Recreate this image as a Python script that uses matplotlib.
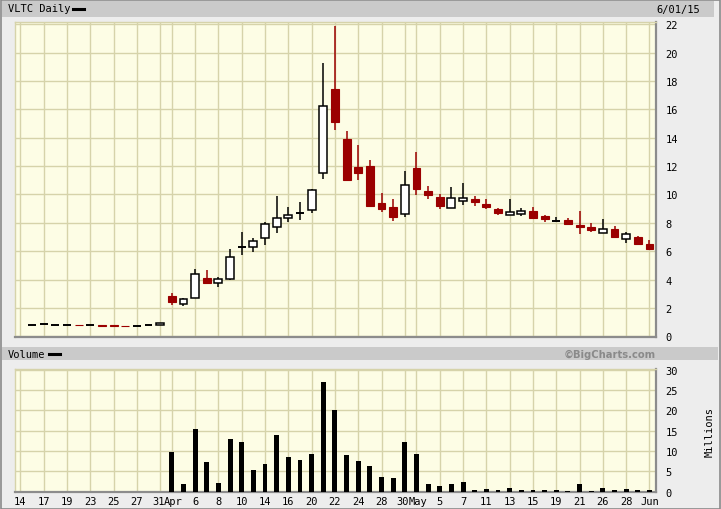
import numpy as np
import matplotlib
matplotlib.use("Agg")
import matplotlib.pyplot as plt
import matplotlib.transforms as mtransforms
from matplotlib.patches import Rectangle
from matplotlib.lines import Line2D

# VLTC daily, 16 Mar - 1 Jun 2015 (one entry per trading day)
opens = [0.82, 0.87, 0.82, 0.82, 0.81, 0.79, 0.78, 0.78, 0.76, 0.74, 0.79, 0.82,
         2.84, 2.31, 2.73, 4.14, 3.76, 4.04, 6.30, 6.26, 6.96, 7.67, 8.37, 8.67,
         8.93, 11.54, 17.42, 13.89, 11.90, 11.97, 9.38, 9.10, 8.65,
         11.85, 10.23, 9.85, 9.07, 9.57, 9.68, 9.31, 9.00, 8.58, 8.65, 8.81,
         8.48, 8.13, 8.18, 7.83, 7.69, 7.31, 7.55, 6.89, 7.03, 6.47]
highs = [0.82, 0.88, 0.82, 0.82, 0.81, 0.81, 0.78, 0.78, 0.76, 0.74, 0.79, 0.97,
         3.03, 2.73, 4.72, 4.65, 4.18, 6.14, 7.36, 6.91, 8.06, 9.89, 9.14, 9.43,
         10.41, 19.25, 21.84, 14.46, 13.47, 12.41, 10.11, 9.66, 11.64,
         13.00, 10.56, 10.01, 10.51, 10.79, 9.89, 9.71, 9.07, 9.66, 9.07, 9.14,
         8.55, 8.44, 8.37, 8.84, 7.95, 8.25, 7.78, 7.36, 7.08, 6.77]
lows = [0.82, 0.86, 0.82, 0.82, 0.79, 0.78, 0.75, 0.75, 0.74, 0.74, 0.79, 0.82,
        2.21, 2.14, 2.73, 3.67, 3.48, 3.97, 5.71, 5.95, 6.44, 7.31, 8.02, 8.20,
        8.72, 11.12, 14.55, 10.91, 11.00, 9.12, 8.77, 8.10, 8.44,
        9.97, 9.66, 8.98, 9.07, 9.26, 9.19, 8.96, 8.53, 8.53, 8.48, 8.25,
        8.06, 8.02, 7.83, 7.19, 7.36, 7.31, 6.91, 6.56, 6.42, 6.06]
closes = [0.82, 0.87, 0.82, 0.82, 0.79, 0.79, 0.75, 0.75, 0.74, 0.74, 0.79, 0.96,
          2.42, 2.61, 4.42, 3.76, 4.07, 5.62, 6.30, 6.75, 7.90, 8.37, 8.53, 8.67,
          10.32, 16.20, 15.11, 11.00, 11.52, 9.19, 9.00, 8.40, 10.63,
          10.39, 9.97, 9.19, 9.75, 9.78, 9.47, 9.12, 8.70, 8.79, 8.81, 8.34,
          8.25, 8.13, 7.92, 7.71, 7.50, 7.55, 7.00, 7.24, 6.49, 6.14]
# volume, millions (March too small to show)
volumes = [0, 0, 0, 0, 0, 0, 0, 0, 0, 0, 0, 0,
           9.7, 1.9, 15.4, 7.3, 2.1, 13.0, 12.2, 5.3, 6.8, 13.9, 8.4, 7.8,
           9.3, 27.0, 20.1, 9.0, 7.5, 6.3, 3.7, 3.4, 12.2,
           9.3, 1.9, 1.4, 1.9, 2.4, 0.4, 0.65, 0.4, 0.9, 0.4, 0.4,
           0.4, 0.4, 0.2, 1.9, 0.2, 0.9, 0.4, 0.65, 0.4, 0.4]

# date ticks (trading-day index) and their labels
tick_idx = [-1, 1, 3, 5, 7, 9, 11, 12, 14, 16, 18, 20, 22, 24, 26, 28, 30, 32,
            33, 35, 37, 39, 41, 43, 45, 47, 49, 51, 53]
tick_labels = ["14", "17", "19", "23", "25", "27", "31", "Apr", "6", "8", "10",
               "14", "16", "20", "22", "24", "28", "30", "May", "5", "7", "11",
               "13", "15", "19", "21", "26", "28", "Jun"]
price_ticks = [0, 2, 4, 6, 8, 10, 12, 14, 16, 18, 20, 22]
vol_ticks = [0, 5, 10, 15, 20, 25, 30]

W, H = 721, 510
BG = "#ededed"
PLOT_BG = "#fdfde5"
GRID = "#d6d3aa"
RED = "#9b0000"
BAR = "#cacaca"
FONT = "DejaVu Sans Mono"
FS = 7.5

fig = plt.figure(figsize=(W / 100, H / 100), dpi=100, facecolor=BG)


def px_axes(left, top, right, bottom):
    return fig.add_axes([left / W, 1 - bottom / H, (right - left) / W, (bottom - top) / H])


# header bars and outer border
fig.patches.append(Rectangle((2 / W, 1 - 17.5 / H), 712 / W, 15.5 / H,
                             transform=fig.transFigure, facecolor=BAR, edgecolor="none"))
fig.patches.append(Rectangle((2 / W, 1 - 361 / H), 716 / W, 13 / H,
                             transform=fig.transFigure, facecolor=BAR, edgecolor="none"))
fig.patches.append(Rectangle((0.5 / W, 0.5 / H), 719 / W, 508.5 / H,
                             transform=fig.transFigure, facecolor="none",
                             edgecolor="#8a8a8a", lw=1.2))

ax = px_axes(15, 23, 656, 338)
axv = px_axes(15, 370, 656, 493)

x = np.arange(len(closes))
xlim = (-1.46, 53.56)


def style(a, yticks, ylim):
    a.set_facecolor(PLOT_BG)
    a.set_xlim(*xlim)
    a.set_ylim(*ylim)
    a.set_xticks(tick_idx)
    a.set_yticks(yticks)
    a.grid(True, color=GRID, lw=1.0, zorder=0)
    a.set_axisbelow(True)
    a.yaxis.tick_right()
    a.tick_params(length=0, labelsize=FS, pad=7)
    for t in a.get_yticklabels():
        t.set_fontfamily(FONT)
    for s in ("top", "left"):
        a.spines[s].set_color(GRID)
        a.spines[s].set_linewidth(1.0)
    for s in ("bottom", "right"):
        a.spines[s].set_color("#8c8c8c")
        a.spines[s].set_linewidth(1.6)


style(ax, price_ticks, (-0.05, 22.15))
ax.set_xticklabels([])
style(axv, vol_ticks, (-0.1, 30.2))
axv.set_xticklabels(tick_labels, fontfamily=FONT, fontsize=FS)
axv.tick_params(axis="x", pad=3)

# nudge the crowded month labels apart a little, as on the original
for lab in axv.get_xticklabels():
    shift = {"31": -2, "30": -2, "Apr": 1.5, "May": 1.5}.get(lab.get_text(), 0)
    if shift:
        lab.set_transform(lab.get_transform() +
                          mtransforms.ScaledTranslation(shift / 100, 0, fig.dpi_scale_trans))

# candles
w = 0.68
for i in x:
    o, h, l, c = opens[i], highs[i], lows[i], closes[i]
    if c < o:
        ax.vlines(i, l, h, color=RED, lw=1.1, zorder=2)
        ax.bar(i, o - c, bottom=c, width=w, facecolor=RED, edgecolor=RED, lw=0.8, zorder=3)
    elif c > o:
        ax.vlines(i, l, h, color="black", lw=1.1, zorder=2)
        ax.bar(i, c - o, bottom=o, width=w, facecolor="white", edgecolor="black", lw=1.1, zorder=3)
    else:
        ax.vlines(i, l, h, color="black", lw=1.1, zorder=2)
        ax.hlines(c, i - w / 2, i + w / 2, color="black", lw=1.4, zorder=3)

# volume
axv.bar(x, volumes, width=0.42, color="black", zorder=3)

# texts
fig.text(8 / W, 1 - 9.5 / H, "VLTC Daily", fontfamily=FONT, fontsize=FS, va="center")
fig.add_artist(Line2D([73 / W, 84 / W], [1 - 9.5 / H, 1 - 9.5 / H], color="black", lw=2.2,
                      transform=fig.transFigure))
fig.text(700 / W, 1 - 9.5 / H, "6/01/15", fontfamily=FONT, fontsize=FS, va="center", ha="right")
fig.text(8 / W, 1 - 355 / H, "Volume", fontfamily=FONT, fontsize=FS, va="center")
fig.add_artist(Line2D([49 / W, 60 / W], [1 - 355 / H, 1 - 355 / H], color="black", lw=2.2,
                      transform=fig.transFigure))
fig.text(656 / W, 1 - 355 / H, "\u00a9BigCharts.com", fontfamily="DejaVu Sans", fontsize=7.2,
         fontweight="bold", color="#8a8a8a", va="center", ha="right")
fig.text(710 / W, 1 - 432 / H, "Millions", fontfamily=FONT, fontsize=FS, rotation=90,
         va="center", ha="center")

fig.savefig("out.png", dpi=100, facecolor=BG)
